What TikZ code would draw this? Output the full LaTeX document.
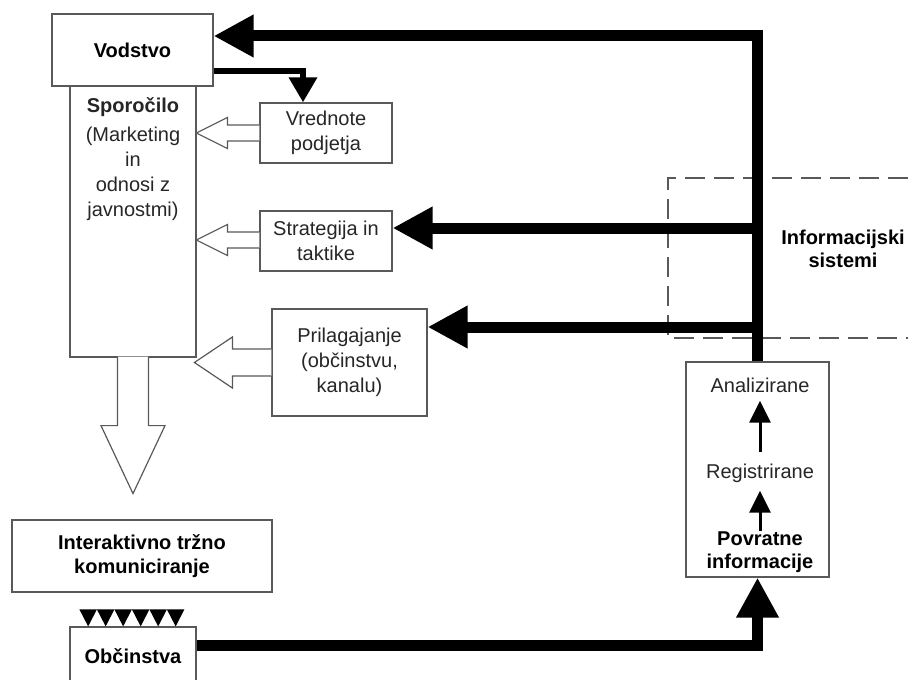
\documentclass[tikz,border=0pt]{standalone}
\usepackage{fontspec}
\setmainfont{Liberation Sans}
\usetikzlibrary{arrows.meta,positioning}

\begin{document}
\begin{tikzpicture}[
        x=0.5pt, y=-0.5pt, % ena enota = en piksel, y narasca navzdol
        box/.style = {draw=black!65, line width=0.6pt, fill=white, align=center, font=\fontsize{10pt}{12.5pt}\selectfont, text=black!85},
        boldbox/.style = {box, font=\fontsize{10pt}{12pt}\selectfont\bfseries, text=black},
        txt/.style = {align=center, inner sep=0pt, font=\fontsize{10pt}{12.5pt}\selectfont, text=black!85},
        btxt/.style = {txt, font=\fontsize{10pt}{11.5pt}\selectfont\bfseries, text=black},
        tok/.style = {line width=5.5pt, -{Triangle[length=20pt, width=20pt]}}, % debele puscice
        vodilo/.style = {line width=3.3pt, -{Triangle[length=12.5pt, width=13.5pt]}},
        malapus/.style = {line width=1.5pt, -{Triangle[length=11pt, width=10.5pt]}},
        votla/.style = {draw=black!65, line width=0.6pt, fill=white}, % prazne puscice
        crtkano/.style = {draw=black!65, line width=0.6pt, dash pattern=on 10pt off 4.5pt},
    ]
    \useasboundingbox (0,0) rectangle (908,679);
    \clip (0,0) rectangle (908,679);

    % informacijski sistemi
    \draw[crtkano] (908,178) -- (668,178) -- (668,338) -- (908,338);
    \node[btxt] (infsis) at (843,249) {Informacijski\\sistemi};

    % levi stolpec
    \node[boldbox, minimum width=80.5pt, minimum height=36pt] (vodstvo) at (132.5,50) {Vodstvo};
    \node[box, minimum width=63pt, minimum height=135.5pt] (stolpec) at (133,221.5) {};
    \node[txt, below=6pt of stolpec.north] (sporocilo) {\textbf{Sporočilo}\\[2pt] (Marketing\\in\\odnosi z\\javnostmi)};
    \path[votla] (stolpec.south) ++(-15.5,-1) -- ++(0,69) -- ++(-16.5,0) -- ++(32,68) -- ++(32,-68) -- ++(-16.5,0) -- ++(0,-69);

    % srednji okvirji
    \node[box, minimum width=66pt, minimum height=30pt] (vrednote) at (326,133) {Vrednote\\podjetja};
    \node[box, minimum width=66pt, minimum height=30pt] (strategija) at (326,241) {Strategija in\\taktike};
    \node[box, minimum width=77.5pt, minimum height=53.5pt] (prilag) at (349.5,362.5) {Prilagajanje\\(občinstvu,\\kanalu)};

    \path[votla] (vrednote.west) ++(0,-8) -- ++(-32,0) -- ++(0,-7.5) -- ++(-31,15.5) -- ++(31,15.5) -- ++(0,-7.5) -- ++(32,0);
    \path[votla] (strategija.west) ++(0,-9) -- ++(-32,0) -- ++(0,-7.5) -- ++(-31,15.5) -- ++(31,15.5) -- ++(0,-7.5) -- ++(32,0);
    \path[votla] (prilag.west) ++(0,-13.5) -- ++(-39,0) -- ++(0,-12) -- ++(-38,25.5) -- ++(38,25.5) -- ++(0,-12) -- ++(39,0);

    % spodaj
    \node[boldbox, minimum width=130pt, minimum height=36pt] (interakt) at (142,556) {Interaktivno tržno\\komuniciranje};
    \node[boldbox, minimum width=63pt, minimum height=29pt] (obcinstva) at (133,656) {Občinstva};
    \foreach \i in {0,...,5}
        \fill (obcinstva.north west) ++({10+17.5*\i},-17) -- ++(17.5,0) -- ++(-8.75,17) -- cycle;

    % povratne informacije
    \node[box, minimum width=71.5pt, minimum height=107.5pt] (povratne) at (757.5,469.5) {};
    \node[txt] (analiz) at (760,385) {Analizirane};
    \node[txt] (regis) at (760,473) {Registrirane};
    \node[btxt] (povr) at (760,552) {Povratne\\informacije};
    \draw[malapus, shorten <=5.5pt, shorten >=4pt] (regis) -- (analiz);
    \draw[malapus, shorten >=4pt] (povr) -- (regis);

    % debele povezave
    \coordinate (vrh) at (757.5,36);
    \coordinate (s1) at (757.5,228);
    \coordinate (s2) at (757.5,327);
    \coordinate (dno) at (757.5,645);
    \coordinate (zavoj) at (303,71);
    \draw[tok] (povratne.north) -- (vrh) -- (vodstvo.east |- vrh);
    \draw[tok] (s1) -- (strategija.east |- s1);
    \draw[tok] (s2) -- (prilag.east |- s2);
    \draw[tok] (obcinstva.east |- dno) -- (dno) -- (povratne.south);
    \draw[vodilo] (vodstvo.east |- zavoj) -- (zavoj) -- (zavoj |- vrednote.north);
\end{tikzpicture}
\end{document}
